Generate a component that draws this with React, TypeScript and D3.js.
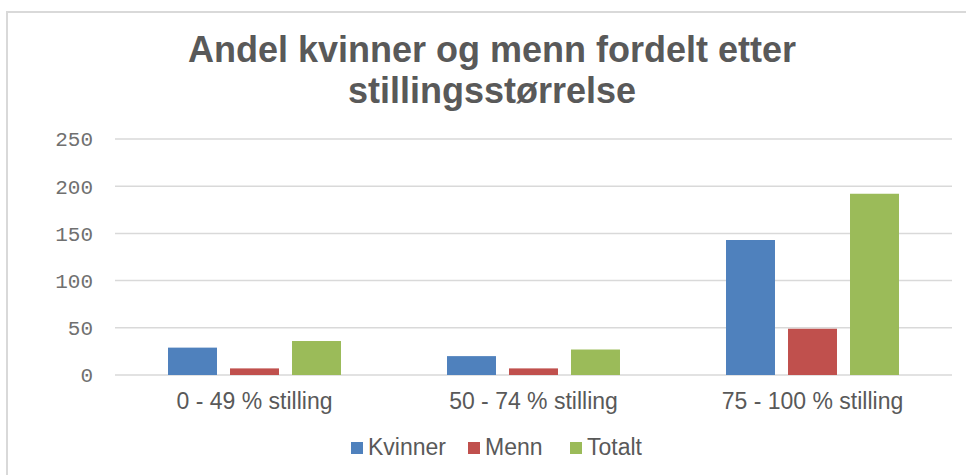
import React, { useEffect, useRef } from 'react';
import * as d3 from 'd3';

const categories = ['0 - 49 % stilling', '50 - 74 % stilling', '75 - 100 % stilling'];
const seriesNames = ['Kvinner', 'Menn', 'Totalt'];
const kvinner = [29, 20, 143];
const menn = [7, 7, 49];
const totalt = [36, 27, 192];
const yTicks = [0, 50, 100, 150, 200, 250];
const titleLines = ['Andel kvinner og menn fordelt etter', 'stillingsstørrelse'];

const colors = ['#4F81BD', '#C0504D', '#9BBB59'];
const textColor = '#595959';

export default function App() {
  const ref = useRef<SVGSVGElement>(null);

  useEffect(() => {
    const width = 966;
    const height = 475;
    const svg = d3.select(ref.current);
    svg.selectAll('*').remove();

    const values = [kvinner, menn, totalt];

    // chart frame
    svg.append('rect')
      .attr('x', 7)
      .attr('y', 12)
      .attr('width', width + 20)
      .attr('height', height + 20)
      .attr('fill', 'white')
      .attr('stroke', '#d9d9d9')
      .attr('stroke-width', 2);

    const y = d3.scaleLinear().domain([0, 250]).range([375, 139]);
    const x0 = d3.scaleBand().domain(categories).range([115, 952]);
    const x1 = d3.scaleBand().domain(seriesNames)
      .range([0, x0.bandwidth()])
      .paddingInner(0.21)
      .paddingOuter(0.855);

    // gridlines
    svg.append('g')
      .selectAll('line')
      .data(yTicks)
      .enter()
      .append('line')
      .attr('x1', 115)
      .attr('x2', 952)
      .attr('y1', d => y(d))
      .attr('y2', d => y(d))
      .attr('stroke', '#d9d9d9')
      .attr('stroke-width', 1.5);

    // y labels
    svg.append('g')
      .selectAll('text')
      .data(yTicks)
      .enter()
      .append('text')
      .attr('x', 93)
      .attr('y', d => y(d))
      .attr('dy', '0.35em')
      .attr('text-anchor', 'end')
      .attr('font-family', '"Liberation Mono", "DejaVu Sans Mono", monospace')
      .attr('font-size', 21)
      .attr('fill', '#707070')
      .text(d => d);

    // bars
    const group = svg.append('g')
      .selectAll('g')
      .data(categories)
      .enter()
      .append('g')
      .attr('transform', d => `translate(${x0(d)},0)`);

    group.selectAll('rect')
      .data((d, i) => seriesNames.map((s, j) => ({ s, v: values[j][i], c: colors[j] })))
      .enter()
      .append('rect')
      .attr('x', d => x1(d.s) as number)
      .attr('width', x1.bandwidth())
      .attr('y', d => y(d.v))
      .attr('height', d => y(0) - y(d.v))
      .attr('fill', d => d.c);

    // x labels
    svg.append('g')
      .selectAll('text')
      .data(categories)
      .enter()
      .append('text')
      .attr('x', d => (x0(d) as number) + x0.bandwidth() / 2)
      .attr('y', 409)
      .attr('text-anchor', 'middle')
      .attr('font-family', '"Liberation Sans", Arial, sans-serif')
      .attr('font-size', 23)
      .attr('fill', textColor)
      .text(d => d);

    // title
    svg.append('text')
      .attr('text-anchor', 'middle')
      .attr('font-family', '"Liberation Sans", Arial, sans-serif')
      .attr('font-weight', 'bold')
      .attr('font-size', 36)
      .attr('fill', textColor)
      .selectAll('tspan')
      .data(titleLines)
      .enter()
      .append('tspan')
      .attr('x', 492)
      .attr('y', (d, i) => 62 + i * 41)
      .text(d => d);

    // legend
    const legendX = [351, 468, 570];
    const legend = svg.append('g')
      .selectAll('g')
      .data(seriesNames)
      .enter()
      .append('g')
      .attr('transform', (d, i) => `translate(${legendX[i]},442)`);

    legend.append('rect')
      .attr('width', 12)
      .attr('height', 12)
      .attr('fill', (d, i) => colors[i]);

    legend.append('text')
      .attr('x', 17)
      .attr('y', 13)
      .attr('font-family', '"Liberation Sans", Arial, sans-serif')
      .attr('font-size', 23)
      .attr('fill', textColor)
      .text(d => d);
  }, []);

  return (
    <svg
      ref={ref}
      width={966}
      height={475}
      style={{ position: 'absolute', left: 0, top: 0, display: 'block' }}
    />
  );
}
